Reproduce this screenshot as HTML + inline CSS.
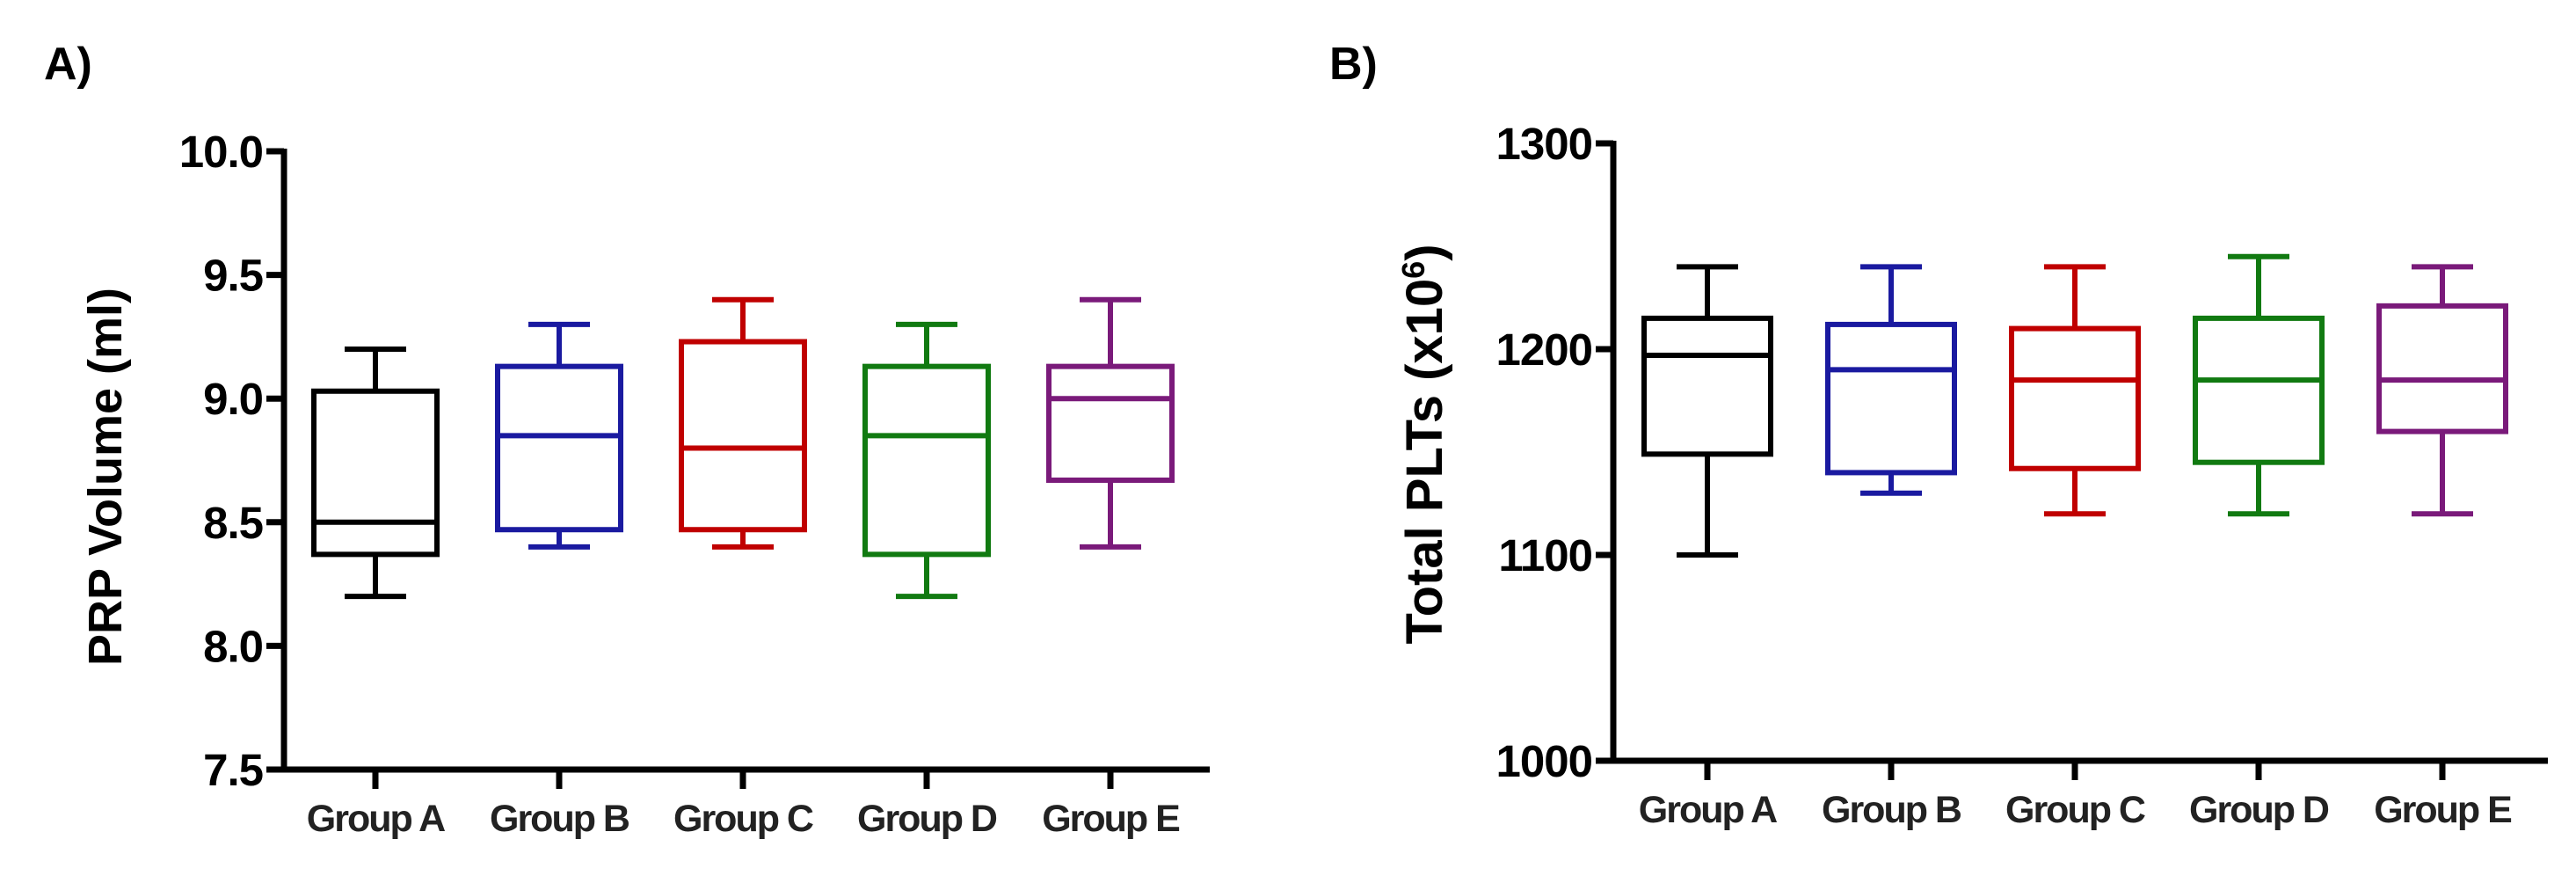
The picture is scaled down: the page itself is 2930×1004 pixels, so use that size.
<!DOCTYPE html>
<html><head><meta charset="utf-8"><style>
body{margin:0;background:#fff;}
svg{display:block;font-family:"Liberation Sans",Arial,sans-serif;font-weight:bold;}
</style></head><body>
<svg id="chart" width="2930" height="1004" viewBox="0 0 2930 1004" xmlns="http://www.w3.org/2000/svg"></svg>
<script>
const groups = ["Group A","Group B","Group C","Group D","Group E"];
const colors = ["#000000","#1a1aa0","#c00000","#117a11","#7a1a7a"];
const aMin = [8.2, 8.4, 8.4, 8.2, 8.4];
const aQ1 = [8.37, 8.47, 8.47, 8.37, 8.67];
const aMed = [8.5, 8.85, 8.8, 8.85, 9.0];
const aQ3 = [9.03, 9.13, 9.23, 9.13, 9.13];
const aMax = [9.2, 9.3, 9.4, 9.3, 9.4];
const aTicks = ["7.5","8.0","8.5","9.0","9.5","10.0"];
const bMin = [1100, 1130, 1120, 1120, 1120];
const bQ1 = [1149, 1140, 1142, 1145, 1160];
const bMed = [1197, 1190, 1185, 1185, 1185];
const bQ3 = [1215, 1212, 1210, 1215, 1221];
const bMax = [1240, 1240, 1240, 1245, 1240];
const bTicks = ["1000","1100","1200","1300"];

const NS = "http://www.w3.org/2000/svg";
const svg = document.getElementById("chart");
function mk(tag, attrs, parent){
  const e = document.createElementNS(NS, tag);
  for (const k in attrs) e.setAttribute(k, attrs[k]);
  (parent||svg).appendChild(e);
  return e;
}

function panel(cfg){
  const g = mk("g", {});
  
  
  const y = v => cfg.y0 - (v - cfg.vmin) / (cfg.vmax - cfg.vmin) * (cfg.y0 - cfg.y1);
  const x = i => cfg.x0 + i * cfg.step;
  const ya = mk("line", {x1:cfg.ax, y1:cfg.y1-3, x2:cfg.ax, y2:cfg.y0+3, stroke:"#000","stroke-width":7}, g);
  
  
  const xa = mk("line", {x1:cfg.ax-3, y1:cfg.y0, x2:cfg.axEnd, y2:cfg.y0, stroke:"#000","stroke-width":7}, g);
  
  
  cfg.ticks.forEach(t => {
    const v = parseFloat(t);
    const tl = mk("line", {x1:cfg.ax-20, y1:y(v), x2:cfg.ax, y2:y(v), stroke:"#000","stroke-width":7}, g);
    
    
    const tx = mk("text", {x:cfg.ax-24, y:y(v)+18, "text-anchor":"end","font-size":51, fill:"#000", "letter-spacing":"-1"}, g);
    
    
    tx.textContent = t;
  });
  groups.forEach((name, i) => {
    const cx = x(i), c = colors[i];
    const tk = mk("line", {x1:cx, y1:cfg.y0, x2:cx, y2:cfg.y0+22, stroke:"#000","stroke-width":7}, g);
    
    
    const lb = mk("text", {x:cx, y:cfg.y0+70, "text-anchor":"middle","font-size":43, fill:"#222", "letter-spacing":"-2"}, g);
    
    
    lb.textContent = name;
    const bx = mk("g", {stroke:c, "stroke-width":6, fill:"none"}, g);
    
    
    const d = cfg.data;
    mk("line", {x1:cx, y1:y(d[4][i]), x2:cx, y2:y(d[3][i])}, bx);
    mk("line", {x1:cx, y1:y(d[1][i]), x2:cx, y2:y(d[0][i])}, bx);
    mk("line", {x1:cx-35, y1:y(d[4][i]), x2:cx+35, y2:y(d[4][i])}, bx);
    mk("line", {x1:cx-35, y1:y(d[0][i]), x2:cx+35, y2:y(d[0][i])}, bx);
    mk("rect", {x:cx-cfg.hw, y:y(d[3][i]), width:2*cfg.hw, height:y(d[1][i])-y(d[3][i])}, bx);
    mk("line", {x1:cx-cfg.hw, y1:y(d[2][i]), x2:cx+cfg.hw, y2:y(d[2][i])}, bx);
  });
  const tt = mk("text", {x:0, y:0, "text-anchor":"middle","font-size":cfg.tfs, fill:"#000",
    transform:`translate(${cfg.tx},${cfg.ty}) rotate(-90)`}, g);
  
  
  tt.innerHTML = cfg.title;
  const pl = mk("text", {x:cfg.px, y:90, "font-size":52, fill:"#000"}, g);
  
  
  pl.textContent = cfg.label;
}

panel({name:"panel-a", label:"A)", px:50, ax:323, axEnd:1376, y0:875, y1:172, vmin:7.5, vmax:10,
  x0:427, step:209, hw:70, ticks:aTicks, data:[aMin,aQ1,aMed,aQ3,aMax],
  title:"PRP Volume (ml)", tfs:54, tx:138, ty:542});
panel({name:"panel-b", label:"B)", px:1512, ax:1835, axEnd:2898, y0:865, y1:163, vmin:1000, vmax:1300,
  x0:1942, step:209, hw:72, ticks:bTicks, data:[bMin,bQ1,bMed,bQ3,bMax],
  title:'Total PLTs (x10<tspan dy="-20" font-size="36">6</tspan><tspan dy="20">)</tspan>', tfs:58, tx:1640, ty:505});
</script>
</body></html>
